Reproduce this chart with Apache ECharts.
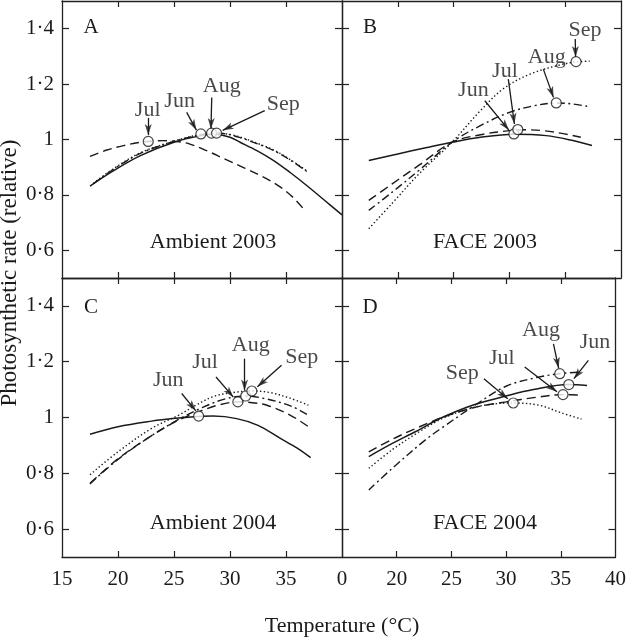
<!DOCTYPE html>
<html><head><meta charset="utf-8">
<script src="https://cdn.jsdelivr.net/npm/echarts@6/dist/echarts.min.js"></script>
<style>html,body{margin:0;padding:0;background:#fff}#c{width:629px;height:639px}</style>
</head><body><div id="c"></div>
<script>
// ---------- labels / ticks ----------
const months = ['Jun', 'Jul', 'Aug', 'Sep'];
const panelLetters = ['A', 'B', 'C', 'D'];
const panelTitles = ['Ambient 2003', 'FACE 2003', 'Ambient 2004', 'FACE 2004'];
const xTickValues = [15, 20, 25, 30, 35, 40];
const xTickLabelsLeft = ['15', '20', '25', '30', '35', '0'];
const xTickLabelsRight = ['', '20', '25', '30', '35', '40'];
const yTickValues = [0.6, 0.8, 1.0, 1.2, 1.4];
const yTickLabels = ['0·6', '0·8', '1', '1·2', '1·4'];
const xTitle = 'Temperature (°C)';
const yTitle = 'Photosynthetic rate (relative)';

// ---------- curves: [temperature, relative rate] ----------
// Panel A  Ambient 2003
const A_Jun = [[17.5,0.832],[19.5,0.885],[22,0.942],[25,0.99],[27.4,1.014],[28.6,1.019],[30,1.008],[30.9,0.99],[32.4,0.96],[33.9,0.924],[35.4,0.88],[36.85,0.834],[38.9,0.765],[40,0.728]];
const A_Jul = [[17.5,0.939],[19,0.962],[20.5,0.978],[22,0.99],[22.7,0.993],[24,0.996],[25.2,0.993],[26.3,0.985],[27.9,0.96],[29.5,0.93],[31.3,0.897],[32.8,0.868],[34.4,0.831],[35.6,0.792],[36.55,0.75]];
const A_Aug = [[17.8,0.84],[19.5,0.89],[22,0.95],[25,0.993],[27,1.014],[28.4,1.023],[29.5,1.021],[30.9,1.007],[32.4,0.985],[33.9,0.96],[35.4,0.925],[36.85,0.885]];
const A_Sep = [[17.8,0.842],[19.5,0.892],[22,0.952],[25,0.994],[27,1.015],[28.8,1.023],[30,1.018],[30.9,1.009],[32.4,0.987],[33.9,0.962],[35.4,0.927],[36.85,0.887]];
// Panel B  FACE 2003
const B_Jun = [[17.4,0.924],[20,0.948],[22.5,0.97],[24.85,0.99],[27.4,1.008],[30.4,1.019],[33.3,1.014],[35.5,0.998],[37.4,0.978]];
const B_Jul = [[17.4,0.78],[19.5,0.84],[22,0.91],[24.85,0.99],[27.4,1.017],[30,1.032],[31.5,1.035],[33,1.032],[34.7,1.022],[36.4,1.008]];
const B_Aug = [[17.4,0.744],[19.5,0.81],[22,0.892],[24.85,0.99],[27.4,1.05],[30,1.098],[32,1.12],[34.2,1.132],[35.7,1.128],[37.1,1.119]];
const B_Sep = [[17.4,0.678],[19.5,0.77],[22,0.88],[24.85,0.99],[27.4,1.104],[29.45,1.183],[31.85,1.236],[34.8,1.272],[36,1.28],[37.2,1.283]];
// Panel C  Ambient 2004
const C_Jun = [[17.5,0.94],[20,0.967],[23,0.987],[25.1,0.997],[27.2,1.004],[28.5,1.005],[30.6,0.996],[32.5,0.972],[34.5,0.925],[36,0.89],[37.2,0.856]];
const C_Jul = [[17.5,0.764],[20,0.852],[23,0.935],[25.4,0.99],[27.5,1.025],[29,1.045],[30.7,1.056],[32,1.053],[33.3,1.044],[35.4,1.008],[37,0.967]];
const C_Aug = [[17.5,0.762],[20,0.85],[23,0.935],[25.4,0.993],[27.5,1.035],[29.5,1.066],[31.4,1.077],[33.3,1.066],[35.5,1.04],[37.1,1.006]];
const C_Sep = [[17.5,0.795],[20,0.877],[23,0.961],[25.4,1.008],[27,1.045],[28.5,1.075],[30,1.088],[31.9,1.095],[33.5,1.09],[35.3,1.07],[37,1.044]];
// Panel D  FACE 2004
const D_Jun = [[17.45,0.86],[19.6,0.907],[21.7,0.949],[24.1,0.999],[27,1.045],[30,1.077],[32.5,1.1],[35.7,1.118],[37.4,1.115]];
const D_Jul = [[17.45,0.877],[19.6,0.922],[21.7,0.96],[24.1,0.999],[27,1.035],[30,1.056],[32.7,1.072],[35.2,1.082],[36.9,1.08]];
const D_Aug = [[17.45,0.74],[19.6,0.818],[22.6,0.919],[24.1,0.962],[27,1.04],[30,1.112],[33,1.145],[34.9,1.157],[36.9,1.163]];
const D_Sep = [[17.45,0.818],[19.6,0.885],[21.7,0.94],[24.1,0.995],[26.5,1.03],[28.5,1.047],[30.65,1.052],[33,1.044],[35.1,1.016],[36.9,0.994]];

// ---------- optimum points (circles) ----------
const A_opt = [[27.4,1.02],[22.7,0.993],[28.35,1.023],[28.8,1.023]];
const B_opt = [[30.4,1.02],[30.75,1.036],[34.2,1.132],[35.97,1.281]];
const C_opt = [[27.2,1.005],[30.7,1.056],[31.4,1.077],[31.95,1.095]];
const D_opt = [[35.73,1.118],[35.2,1.082],[34.9,1.157],[30.65,1.052]];

// ---------- annotations: month label and arrow (from -> tip) ----------
const A_notes = [
  {m:'Jul', label:[22.65,1.104], from:[22.7,1.078], to:[22.7,1.016]},
  {m:'Jun', label:[25.5,1.14],  from:[26.13,1.098], to:[27.0,1.034]},
  {m:'Aug', label:[29.26,1.194], from:[28.37,1.152], to:[28.3,1.038]},
  {m:'Sep', label:[34.76,1.128], from:[33.1,1.104], to:[29.35,1.033]}
];
const B_notes = [
  {m:'Sep', label:[36.77,1.395], from:[35.9,1.363], to:[35.93,1.298]},
  {m:'Aug', label:[33.35,1.296], from:[33.04,1.254], to:[33.95,1.152]},
  {m:'Jul', label:[29.6,1.248], from:[29.9,1.218], to:[30.45,1.056]},
  {m:'Jun', label:[26.77,1.179], from:[27.8,1.14], to:[29.95,1.034]}
];
const C_notes = [
  {m:'Jun', label:[24.49,1.133], from:[25.69,1.086], to:[26.95,1.024]},
  {m:'Jul', label:[27.77,1.199], from:[28.75,1.145], to:[30.3,1.073]},
  {m:'Aug', label:[31.85,1.258], from:[31.3,1.211], to:[31.3,1.097]},
  {m:'Sep', label:[36.4,1.217], from:[34.6,1.187], to:[32.45,1.11]}
];
const D_notes = [
  {m:'Aug', label:[33.19,1.312], from:[34.33,1.264], to:[34.8,1.177]},
  {m:'Jun', label:[38.12,1.27], from:[37.52,1.205], to:[36.2,1.139]},
  {m:'Jul', label:[29.6,1.211], from:[31.7,1.181], to:[34.65,1.092]},
  {m:'Sep', label:[26.0,1.157], from:[27.97,1.139], to:[30.15,1.067]}
];

const curves = [[A_Jun,A_Jul,A_Aug,A_Sep],[B_Jun,B_Jul,B_Aug,B_Sep],[C_Jun,C_Jul,C_Aug,C_Sep],[D_Jun,D_Jul,D_Aug,D_Sep]];
const optima = [A_opt,B_opt,C_opt,D_opt];
const notes = [A_notes,B_notes,C_notes,D_notes];

// ---------- styling ----------
const FONT = '"Liberation Serif", "Times New Roman", serif';
const INK = '#1a1a1a';
const lineTypes = ['solid', [9,5], [8,3.5,2,3.5], [1.4,2.4]];
const lineWidths = [1.5, 1.4, 1.4, 1.4];
const HEAD_W = 7, HEAD_L = 11;
const grids = [
  {left:62, top:1, width:280, height:277},
  {left:342, top:1, width:279, height:277},
  {left:62, top:278, width:280, height:279},
  {left:342, top:278, width:279, height:279}
];

function buildSeries(heads) {
  const xAxes = [], yAxes = [], series = [];
  grids.forEach((g, p) => {
    const isBottom = p >= 2, isLeft = p % 2 === 0;
    const lbls = isLeft ? xTickLabelsLeft : xTickLabelsRight;
    const axLine = {show:true, lineStyle:{color:'#222', width:1.3}};
    const tickStyle = {color:'#222', width:1.2};
    xAxes.push({
      type:'value', gridIndex:p, position:'bottom', min:15, max:40,
      axisLine:axLine, splitLine:{show:false},
      axisTick:{show:true, inside:true, length:6, customValues:[20,25,30,35], lineStyle:tickStyle},
      axisLabel:{show:isBottom, customValues:xTickValues, margin:12, color:INK, fontFamily:FONT, fontSize:21,
        formatter:v => lbls[xTickValues.indexOf(v)] ?? ''}
    });
    xAxes.push({
      type:'value', gridIndex:p, position:'top', min:15, max:40,
      axisLine:axLine, splitLine:{show:false},
      axisTick:{show:true, inside:true, length:6, customValues:[20,25,30,35], lineStyle:tickStyle},
      axisLabel:{show:false}
    });
    yAxes.push({
      type:'value', gridIndex:p, position:'left', min:0.5, max:1.5,
      axisLine:axLine, splitLine:{show:false},
      axisTick:{show:true, inside:true, length:7, customValues:yTickValues, lineStyle:tickStyle},
      axisLabel:{show:isLeft, customValues:yTickValues, margin:8, color:INK, fontFamily:FONT, fontSize:21,
        formatter:v => { const i = yTickValues.findIndex(t => Math.abs(t - v) < 1e-6); return i >= 0 ? yTickLabels[i] : ''; }}
    });
    yAxes.push({
      type:'value', gridIndex:p, position:'right', min:0.5, max:1.5,
      axisLine:axLine, splitLine:{show:false},
      axisTick:{show:true, inside:true, length:7, customValues:yTickValues, lineStyle:tickStyle},
      axisLabel:{show:false}
    });

    curves[p].forEach((data, m) => {
      series.push({
        type:'line', name:panelTitles[p] + ' ' + months[m], xAxisIndex:2*p, yAxisIndex:2*p,
        data:data, smooth:0.35, showSymbol:false, symbol:'none', silent:true, z:2,
        lineStyle:{color:INK, width:lineWidths[m], type:lineTypes[m]}
      });
    });

    series.push({
      type:'scatter', xAxisIndex:2*p, yAxisIndex:2*p, silent:true, z:5,
      data:optima[p], symbol:'circle', symbolSize:10,
      itemStyle:{color:'#fff', borderColor:INK, borderWidth:1.2},
      markLine:{
        silent:true, symbol:['none','none'], animation:false,
        label:{show:false}, emphasis:{disabled:true},
        lineStyle:{color:INK, width:1.3, type:'solid'},
        data:notes[p].map(n => [{coord:n.from}, {coord:n.to}])
      }
    });

    series.push({
      type:'scatter', xAxisIndex:2*p, yAxisIndex:2*p, silent:true, z:7,
      symbol:'path://M0,0 L5,14 L0,10.5 L-5,14 Z', symbolSize:[HEAD_W, HEAD_L], symbolKeepAspect:false,
      itemStyle:{color:INK},
      data:heads ? heads[p] : []
    });

    series.push({
      type:'scatter', xAxisIndex:2*p, yAxisIndex:2*p, silent:true, z:6,
      symbolSize:0,
      data:notes[p].map(n => ({name:n.m, value:n.label})),
      label:{show:true, position:'inside', formatter:'{b}', color:INK, fontFamily:FONT, fontSize:22}
    });
  });
  return {xAxes, yAxes, series};
}

const panelLetterPos = [[91,27],[370,27],[91,307],[370,307]];
const panelTitlePos = [[213,242],[485,242],[213,523],[485,523]];
const graphics = [];
const txt = (t, x, y, size, rot) => ({type:'text', x:x, y:y, rotation:rot || 0,
  style:{text:t, font:size + 'px ' + FONT, fill:INK, align:'center', verticalAlign:'middle', textAlign:'center', textVerticalAlign:'middle'}});
panelLetters.forEach((t, i) => graphics.push(txt(t, panelLetterPos[i][0], panelLetterPos[i][1], 21)));
panelTitles.forEach((t, i) => graphics.push(txt(t, panelTitlePos[i][0], panelTitlePos[i][1], 22)));
graphics.push(txt(xTitle, 342, 626, 22));
graphics.push(txt(yTitle, 10, 273, 23, Math.PI / 2));

const chart = echarts.init(document.getElementById('c'), null, {renderer:'canvas'});
function render(heads) {
  const b = buildSeries(heads);
  chart.setOption({
    animation:false, backgroundColor:'#fff',
    grid:grids.map(g => Object.assign({containLabel:false}, g)),
    xAxis:b.xAxes, yAxis:b.yAxes, series:b.series, graphic:graphics
  }, true);
}
render(null);
// arrowheads: oriented along each arrow, tip at the arrow end (computed through the axes)
const heads = notes.map((list, p) => list.map(n => {
  const finder = {xAxisIndex:2*p, yAxisIndex:2*p};
  const a = chart.convertToPixel(finder, n.from);
  const b = chart.convertToPixel(finder, n.to);
  const dx = b[0] - a[0], dy = b[1] - a[1];
  const len = Math.hypot(dx, dy) || 1;
  const ux = dx / len, uy = dy / len;
  const c = [b[0] - ux * HEAD_L / 2, b[1] - uy * HEAD_L / 2];
  const val = chart.convertFromPixel(finder, c);
  const rot = Math.atan2(-ux, -uy) * 180 / Math.PI;
  return {value:val, symbolRotate:rot};
}));
render(heads);
</script></body></html>
